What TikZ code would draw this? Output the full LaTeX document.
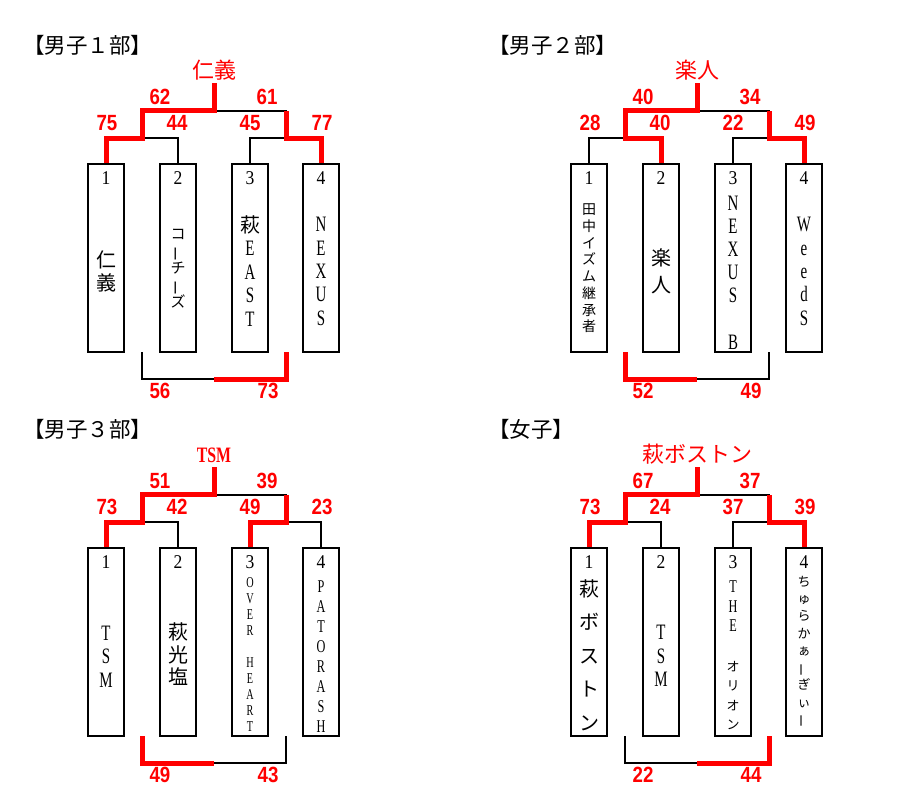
\documentclass[tikz,border=0pt]{standalone}
\usepackage{fontspec}
\newfontfamily\jp{Noto Sans CJK JP}
\newfontfamily\ser[FakeStretch=0.68]{Liberation Serif}
\newfontfamily\sernum[FakeStretch=0.9]{Liberation Serif}
\newfontfamily\scf[FakeStretch=0.85]{Liberation Sans}
\newfontfamily\tsmf[FakeStretch=0.72]{Liberation Serif}
\newcommand\vb{\rotatebox[origin=c]{90}{ー}}
\tikzset{
  box/.style={draw, line width=1.2pt, fill=white, minimum width=36pt, minimum height=188pt, inner sep=0pt},
  bl/.style={line width=2pt, black},
  rd/.style={line width=5pt, red},
  sc/.style={text=red, font=\scf\bfseries\fontsize{22}{22}\selectfont, inner sep=0pt},
  win/.style={text=red, font=\jp\fontsize{22}{22}\selectfont, inner sep=0pt},
  ttl/.style={font=\jp\fontsize{21.5}{21.5}\selectfont, inner sep=0pt, anchor=west},
  num/.style={font=\sernum\fontsize{19.5}{19.5}\selectfont, inner sep=0pt},
  col/.style={align=center, inner sep=0pt},
}
\newcommand\skel[1]{%
  \node[box] (#1b1) at (106,258) {};
  \node[box] (#1b2) at (178,258) {};
  \node[box] (#1b3) at (250,258) {};
  \node[box] (#1b4) at (321,258) {};
  \coordinate (#1jL) at (142,138);
  \coordinate (#1jR) at (286,138);
  \coordinate (#1tL) at (142,110.5);
  \coordinate (#1tR) at (286,110.5);
  \coordinate (#1tp) at (214,110.5);
  \coordinate (#1win) at (214,83);
  \coordinate (#1bL) at (142,352);
  \coordinate (#1bR) at (286,352);
  \coordinate (#1bm) at (214,379);
  \draw[bl] (#1b1.north) |- (#1jL) -| (#1b2.north);
  \draw[bl] (#1b3.north) |- (#1jR) -| (#1b4.north);
  \draw[bl] (#1jL) -- (#1tL) -- (#1tR) -- (#1jR);
  \draw[bl] (#1tp) -- (#1win);
  \draw[bl] (#1bL) |- (#1bm) -| (#1bR);
  \node[num] (#1n1) at (106,178) {1};
  \node[num] (#1n2) at (178,178) {2};
  \node[num] (#1n3) at (250,178) {3};
  \node[num] (#1n4) at (321,178) {4};
}
\newcommand\scores[9]{%
  \node[sc] (#1s5) at (160,97) {#2};
  \node[sc] (#1s6) at (267,97) {#3};
  \node[sc] (#1s1) at (107,123) {#4};
  \node[sc] (#1s2) at (177,123) {#5};
  \node[sc] (#1s3) at (250,123) {#6};
  \node[sc] (#1s4) at (322,123) {#7};
  \node[sc] (#1s7) at (160,391) {#8};
  \node[sc] (#1s8) at (268,391) {#9};
}
\begin{document}
\begin{tikzpicture}[x=1pt,y=-1pt]
\useasboundingbox (0,0) rectangle (909,803);
\fill[white] (0,0) rectangle (909,803);
% titles
\node[ttl] (t1) at (23,45) {【男子１部】};
\node[ttl] (t2) at (488,45) {【男子２部】};
\node[ttl] (t3) at (23,429) {【男子３部】};
\node[ttl] (t4) at (488,429) {【女子】};
% ---------- bracket A
\begin{scope}
  \skel{A}
  \draw[rd] (Ab1.north) |- (AjL) -- (AtL) -- (Atp) -- (Awin);
  \draw[rd] (Ab4.north) |- (AjR) -- (AtR);
  \draw[rd] (Abm) -| (AbR);
  \scores{A}{62}{61}{75}{44}{45}{77}{56}{73}
  \node[win] (Aw) at (214,70) {仁義};
  \node[col, font=\jp\fontsize{20}{23}\selectfont] (At1) at (106,271.5) {仁\\義};
  \node[col, font=\jp\fontsize{15}{17}\selectfont] (At2) at (178,269) {コ\\\vb\\チ\\\vb\\ズ};
  \node[col, font=\ser\fontsize{22}{23.5}\selectfont] (At3) at (250,271) {{\jp\fontsize{20}{23.5}\selectfont 萩}\\E\\A\\S\\T};
  \node[col, font=\ser\fontsize{22}{23.3}\selectfont] (At4) at (321,271.5) {N\\E\\X\\U\\S};
\end{scope}
% ---------- bracket B
\begin{scope}[shift={(483,0)}]
  \skel{B}
  \draw[rd] (Bb2.north) |- (BjL) -- (BtL) -- (Btp) -- (Bwin);
  \draw[rd] (Bb4.north) |- (BjR) -- (BtR);
  \draw[rd] (BbL) |- (Bbm);
  \scores{B}{40}{34}{28}{40}{22}{49}{52}{49}
  \node[win] (Bw) at (214,70) {楽人};
  \node[col, font=\jp\fontsize{14}{16.7}\selectfont] (Bt1) at (106,268.5) {田\\中\\イ\\ズ\\ム\\継\\承\\者};
  \node[col, font=\jp\fontsize{20}{27}\selectfont] (Bt2) at (178,271.5) {楽\\人};
  \node[col, font=\ser\fontsize{22}{23.2}\selectfont] (Bt3) at (250,272.5) {N\\E\\X\\U\\S\\\mbox{}\\B};
  \node[col, font=\ser\fontsize{22}{23.3}\selectfont] (Bt4) at (321,271.5) {W\\e\\e\\d\\S};
\end{scope}
% ---------- bracket C
\begin{scope}[shift={(0,384)}]
  \skel{C}
  \draw[rd] (Cb1.north) |- (CjL) -- (CtL) -- (Ctp) -- (Cwin);
  \draw[rd] (Cb3.north) |- (CjR) -- (CtR);
  \draw[rd] (CbL) |- (Cbm);
  \scores{C}{51}{39}{73}{42}{49}{23}{49}{43}
  \node[text=red, font=\tsmf\bfseries\fontsize{22}{22}\selectfont, inner sep=0pt] (Cw) at (214,71) {TSM};
  \node[col, font=\ser\fontsize{22}{23.5}\selectfont] (Ct1) at (106,272.5) {T\\S\\M};
  \node[col, font=\jp\fontsize{20}{22.5}\selectfont] (Ct2) at (178,270.5) {萩\\光\\塩};
  \node[col, font=\ser\fontsize{15}{16}\selectfont] (Ct3) at (250,271) {O\\V\\E\\R\\\mbox{}\\H\\E\\A\\R\\T};
  \node[col, font=\ser\fontsize{18}{20}\selectfont] (Ct4) at (321,273) {P\\A\\T\\O\\R\\A\\S\\H};
\end{scope}
% ---------- bracket D
\begin{scope}[shift={(483,384)}]
  \skel{D}
  \draw[rd] (Db1.north) |- (DjL) -- (DtL) -- (Dtp) -- (Dwin);
  \draw[rd] (Db4.north) |- (DjR) -- (DtR);
  \draw[rd] (Dbm) -| (DbR);
  \scores{D}{67}{37}{73}{24}{37}{39}{22}{44}
  \node[win] (Dw) at (214,70) {萩ボストン};
  \node[col, font=\jp\fontsize{20}{33.5}\selectfont] (Dt1) at (106,271) {萩\\ボ\\ス\\ト\\ン};
  \node[col, font=\ser\fontsize{22}{23.5}\selectfont] (Dt2) at (178,272) {T\\S\\M};
  \node[col, font=\ser\fontsize{18}{19.6}\selectfont] (Dt3) at (250,271.6) {T\\H\\E\\\mbox{}\\{\jp\fontsize{13}{19.6}\selectfont オ}\\{\jp\fontsize{13}{19.6}\selectfont リ}\\{\jp\fontsize{13}{19.6}\selectfont オ}\\{\jp\fontsize{13}{19.6}\selectfont ン}};
  \node[col, font=\jp\fontsize{13}{17.25}\selectfont] (Dt4) at (321,268) {ち\\ゅ\\ら\\か\\ぁ\\\vb\\ぎ\\ぃ\\\vb};
\end{scope}
\end{tikzpicture}
\end{document}
